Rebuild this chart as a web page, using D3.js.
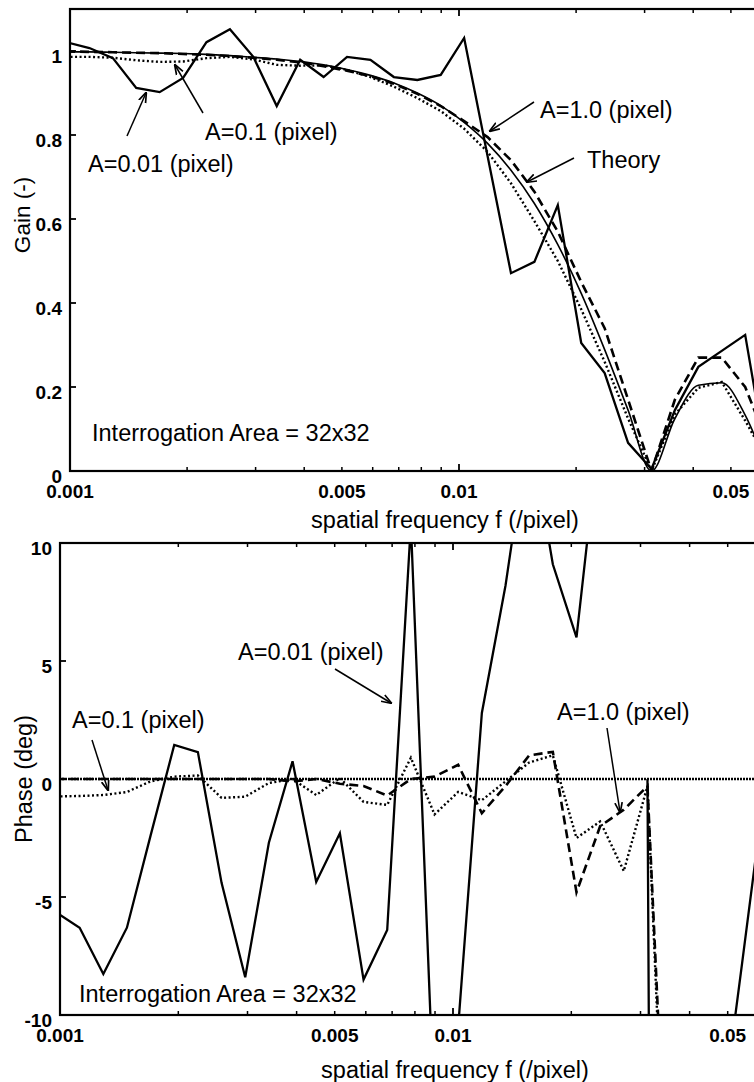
<!DOCTYPE html>
<html><head><meta charset="utf-8">
<script src="https://cdn.jsdelivr.net/npm/d3@7"></script>
<style>body{margin:0;background:#fff}svg{display:block}text{font-family:"Liberation Sans",Arial,Helvetica,sans-serif;fill:#000}</style>
</head><body>
<script>
// ---- data ----
const freq = [0.000977,0.001122,0.001289,0.001480,0.001700,0.001953,0.002243,0.002577,0.002960,0.003400,0.003906,0.004487,0.005154,0.005921,0.006801,0.007813,0.008974,0.010309,0.011842,0.013603,0.015625,0.017948,0.020617,0.023683,0.027205,0.031250,0.035897,0.041235,0.047366,0.054409,0.062500];
const gainTheory = [0.998,0.998,0.997,0.996,0.995,0.994,0.992,0.989,0.985,0.981,0.975,0.967,0.956,0.942,0.924,0.900,0.870,0.830,0.780,0.716,0.637,0.539,0.423,0.289,0.145,0.0,0.125,0.204,0.210,0.133,0.0];
const gainA001 = [1.021,1.007,0.983,0.912,0.902,0.936,1.021,1.052,0.986,0.869,0.979,0.938,0.986,0.979,0.938,0.931,0.943,1.031,0.750,0.471,0.498,0.633,0.305,0.233,0.067,0.005,0.145,0.248,0.286,0.324,0.0];
const gainA01 = [0.986,0.986,0.984,0.978,0.974,0.975,0.983,0.986,0.980,0.967,0.965,0.966,0.955,0.938,0.915,0.888,0.857,0.815,0.760,0.685,0.595,0.500,0.385,0.260,0.125,0.0,0.135,0.198,0.212,0.120,0.020];
const gainA10 = [0.999,0.998,0.997,0.996,0.995,0.993,0.991,0.988,0.984,0.979,0.973,0.964,0.953,0.940,0.922,0.898,0.869,0.833,0.795,0.740,0.665,0.570,0.450,0.340,0.170,0.0,0.170,0.270,0.270,0.200,0.060];
const phaseTheory = [0,0,0,0,0,0,0,0,0,0,0,0,0,0,0,0,0,0,0,0,0,0,0,0,0,0,0,0,0,0,0];
const phaseA001 = [-5.65,-6.3,-8.26,-6.3,-2.4,1.44,1.14,-4.4,-8.4,-2.7,0.75,-4.36,-2.3,-8.5,-6.4,10.8,-14.4,-10.5,2.8,8.2,15,9.1,6.0,15,null,0,-180,-180,-15.5,-7.8,0];
const phaseA01 = [-0.74,-0.72,-0.68,-0.55,-0.1,0.1,0.15,-0.8,-0.75,-0.17,0.0,-0.68,0.04,-0.97,-1.1,0.9,-1.5,-0.55,-0.9,-0.1,0.7,1.0,-2.5,-1.8,-3.9,-0.3,-24,-180,-180,-180,-180];
const phaseA10 = [0,0,0,0,0,0,0,0,0,0,-0.1,0,-0.2,-0.3,-0.7,0,0.1,0.6,-1.45,-0.3,1.0,1.15,-4.8,-2.0,-1.3,-0.3,-22,-180,-180,-180,-180];
const xTickVals = [0.001,0.005,0.01,0.05];
const xTickLabels = ["0.001","0.005","0.01","0.05"];
const gainTicks = [0,0.2,0.4,0.6,0.8,1];
const gainTickLabels = ["0","0.2","0.4","0.6","0.8","1"];
const phaseTicks = [-10,-5,0,5,10];
const phaseTickLabels = ["-10","-5","0","5","10"];
const minorTicks = [0.002,0.003,0.004,0.005,0.006,0.007,0.008,0.009,0.02,0.03,0.04,0.05,0.06];
const majorTicks = [0.001,0.01];

const W=754,H=1082;
const svg=d3.select("body").append("svg").attr("width",W).attr("height",H);
svg.append("rect").attr("width",W).attr("height",H).attr("fill","#fff");
const defs=svg.append("defs");
defs.append("marker").attr("id","arr").attr("viewBox","0 0 10 10").attr("refX",9).attr("refY",5)
  .attr("markerWidth",7).attr("markerHeight",7).attr("orient","auto-start-reverse")
  .append("path").attr("d","M0,1.5 L10,5 L0,8.5").attr("fill","none").attr("stroke","#000").attr("stroke-width",1.6);

function panel(cfg){
  const {x,y,id,ticks,tickLabels} = cfg;
  const [x0,x1]=[x.range()[0],x.range()[1]];
  const [yb,yt]=[y.range()[0],y.range()[1]];
  defs.append("clipPath").attr("id",id).append("rect").attr("x",x0).attr("y",yt).attr("width",x1-x0).attr("height",yb-yt);
  const g=svg.append("g");
  g.append("rect").attr("x",x0).attr("y",yt).attr("width",x1-x0).attr("height",yb-yt).attr("fill","none").attr("stroke","#000").attr("stroke-width",2.2);
  minorTicks.forEach(t=>{const px=x(t);
    g.append("line").attr("x1",px).attr("x2",px).attr("y1",yb).attr("y2",yb-4).attr("stroke","#000").attr("stroke-width",1.5);
    g.append("line").attr("x1",px).attr("x2",px).attr("y1",yt).attr("y2",yt+4).attr("stroke","#000").attr("stroke-width",1.5);});
  majorTicks.forEach(t=>{const px=x(t);
    g.append("line").attr("x1",px).attr("x2",px).attr("y1",yb).attr("y2",yb-7).attr("stroke","#000").attr("stroke-width",1.8);
    g.append("line").attr("x1",px).attr("x2",px).attr("y1",yt).attr("y2",yt+7).attr("stroke","#000").attr("stroke-width",1.8);});
  ticks.forEach(t=>{g.append("line").attr("x1",x0).attr("x2",x0+6).attr("y1",y(t)).attr("y2",y(t)).attr("stroke","#000").attr("stroke-width",1.8);});
  xTickVals.forEach((t,i)=>g.append("text").attr("x",x(t)).attr("y",yb+27).attr("text-anchor","middle")
     .attr("font-size",19).attr("font-weight","bold").text(xTickLabels[i]));
  ticks.forEach((t,i)=>g.append("text").attr("x",x0-8).attr("y",y(t)+12).attr("text-anchor","end")
     .attr("font-size",19).attr("font-weight","bold").text(tickLabels[i]));
  return g.append("g").attr("clip-path",`url(#${id})`);
}

function drawLine(g,x,y,vals,style){
  const line=d3.line().defined(d=>d!==null).x((d,i)=>x(freq[i])).y(d=>y(d)).curve(style.curve||d3.curveLinear);
  g.append("path").attr("d",line(vals)).attr("fill","none").attr("stroke","#000")
   .attr("stroke-width",style.w).attr("stroke-dasharray",style.dash||null)
   .attr("stroke-linejoin","miter").attr("stroke-linecap",style.cap||"butt");
}
function label(txt,x,y,size){svg.append("text").attr("x",x).attr("y",y).attr("font-size",size||23.5).text(txt);}
function arrow(x1,y1,x2,y2){svg.append("line").attr("x1",x1).attr("y1",y1).attr("x2",x2).attr("y2",y2)
   .attr("stroke","#000").attr("stroke-width",1.5).attr("marker-end","url(#arr)");}

// ---- top panel ----
const xT=d3.scaleLog().domain([0.001,0.0625]).range([70,70+389*Math.log10(62.5)]);
const yT=d3.scaleLinear().domain([0,1.1]).range([471,9]);
const gT=panel({x:xT,y:yT,id:"cT",ticks:gainTicks,tickLabels:gainTickLabels});
drawLine(gT,xT,yT,gainTheory,{w:1.6,curve:d3.curveMonotoneX});
drawLine(gT,xT,yT,gainA01,{w:2.4,dash:"2,2.5"});
drawLine(gT,xT,yT,gainA10,{w:2.6,dash:"9,5"});
drawLine(gT,xT,yT,gainA001,{w:2.3});

label("A=0.01 (pixel)",88,172);
arrow(127,136,146,93);
label("A=0.1 (pixel)",205,140);
arrow(203,113,175,65);
label("A=1.0 (pixel)",540,118);
arrow(534,102,490,131);
label("Theory",587,168);
arrow(574,158,527,182);
label("Interrogation Area = 32x32",92,441);
svg.append("text").attr("x",445).attr("y",528).attr("text-anchor","middle").attr("font-size",23.5).text("spatial frequency  f  (/pixel)");
svg.append("text").attr("transform","translate(30,215) rotate(-90)").attr("text-anchor","middle").attr("font-size",22.5).text("Gain (-)");

// ---- bottom panel ----
const xB=d3.scaleLog().domain([0.001,0.0625]).range([60,60+393*Math.log10(62.5)]);
const yB=d3.scaleLinear().domain([-10,10]).range([1015,543]);
const gB=panel({x:xB,y:yB,id:"cB",ticks:phaseTicks,tickLabels:phaseTickLabels});
drawLine(gB,xB,yB,phaseTheory,{w:2.6,dash:"2,1"});
drawLine(gB,xB,yB,phaseA01,{w:2.4,dash:"2,2.5"});
drawLine(gB,xB,yB,phaseA10,{w:2.6,dash:"9,5"});
drawLine(gB,xB,yB,phaseA001,{w:2.3});

label("A=0.01 (pixel)",238,660);
arrow(335,669,391,703);
label("A=0.1 (pixel)",72,728);
arrow(92,740,108,790);
label("A=1.0 (pixel)",557,720);
arrow(607,728,620,812);
label("Interrogation Area = 32x32",79,1002);
svg.append("text").attr("x",455).attr("y",1078).attr("text-anchor","middle").attr("font-size",23.5).text("spatial frequency  f  (/pixel)");
svg.append("text").attr("transform","translate(32,779) rotate(-90)").attr("text-anchor","middle").attr("font-size",23.5).text("Phase (deg)");
</script>
</body></html>
